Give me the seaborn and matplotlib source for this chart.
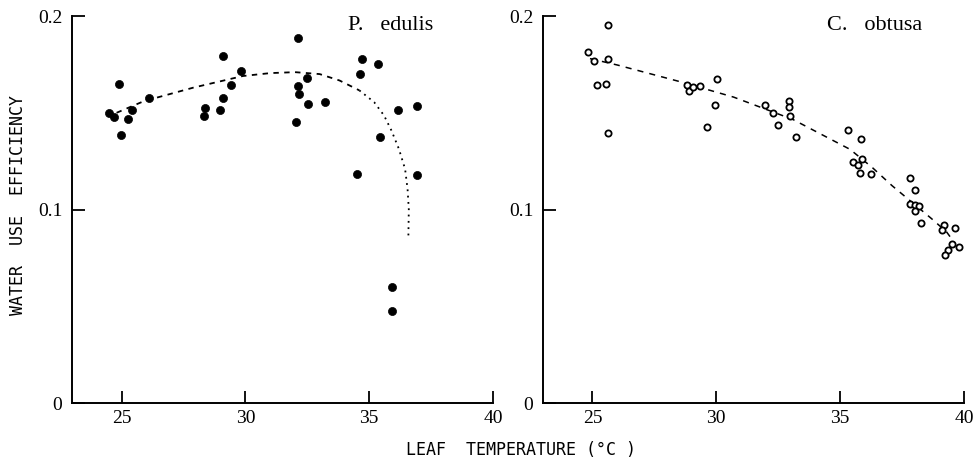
import matplotlib
matplotlib.use("Agg")
import matplotlib.pyplot as plt
import seaborn as sns
import pandas as pd

# ---- data ----
pe_temp = [24.48, 24.68, 24.90, 24.99, 25.27, 25.44, 26.11, 28.32, 28.39, 28.98,
           29.10, 29.11, 29.40, 29.81, 32.13, 32.03, 32.13, 32.17, 32.47, 32.51,
           33.21, 34.52, 34.61, 34.70, 35.35, 35.42, 36.16, 36.92, 36.94, 35.93, 35.93]
pe_wue = [0.1498, 0.1477, 0.1650, 0.1387, 0.1469, 0.1515, 0.1577, 0.1482, 0.1524, 0.1513,
          0.1574, 0.1793, 0.1641, 0.1714, 0.1884, 0.1451, 0.1636, 0.1598, 0.1680, 0.1546,
          0.1555, 0.1182, 0.1702, 0.1776, 0.1752, 0.1373, 0.1515, 0.1536, 0.1178, 0.0600, 0.0476]

pe_fit_temp = [24.8, 25.9, 27.9, 29.9, 31.0, 32.0, 33.0, 33.8, 34.6,
               35.2, 35.6, 35.9, 36.2, 36.45, 36.55, 36.6, 36.58]
pe_fit_wue = [0.150, 0.156, 0.163, 0.169, 0.1705, 0.171, 0.170, 0.1667, 0.1616,
              0.1555, 0.1486, 0.1408, 0.1313, 0.1209, 0.1105, 0.100, 0.0846]
pe_split = 8  # dashed up to this index, dotted afterwards

co_temp = [24.83, 25.07, 25.20, 25.54, 25.61, 25.63, 25.63, 28.82, 28.91, 29.07,
           29.33, 29.63, 29.93, 30.01, 31.95, 32.27, 32.50, 32.95, 32.95, 32.99,
           33.21, 35.30, 35.84, 35.54, 35.72, 35.89, 35.80, 36.24, 37.83, 38.04,
           37.83, 38.04, 38.18, 38.04, 38.28, 39.19, 39.64, 39.10, 39.52, 39.78,
           39.37, 39.25]
co_wue = [0.1813, 0.1767, 0.1643, 0.1649, 0.1954, 0.1777, 0.1393, 0.1646, 0.1610, 0.1632,
          0.1636, 0.1424, 0.1542, 0.1672, 0.1540, 0.1499, 0.1436, 0.1561, 0.1528, 0.1485,
          0.1374, 0.1413, 0.1367, 0.1248, 0.1229, 0.1260, 0.1191, 0.1186, 0.1162, 0.1099,
          0.1029, 0.1024, 0.1017, 0.0995, 0.0931, 0.0918, 0.0903, 0.0895, 0.0824, 0.0808,
          0.0791, 0.0767]

co_fit_temp = [24.9, 26.0, 28.5, 30.7, 33.1, 35.4, 36.3, 37.1, 38.7, 39.3, 39.5]
co_fit_wue = [0.178, 0.1747, 0.1662, 0.1581, 0.1465, 0.1311, 0.1217, 0.1123, 0.0952, 0.0884, 0.0849]

x_ticks = [25, 30, 35, 40]
y_ticks = [0, 0.1, 0.2]
y_ticklabels = ["0", "0.1", "0.2"]
titles = ["P.   edulis", "C.   obtusa"]

sns.set_theme(style="ticks")
plt.rcParams["font.family"] = ["Liberation Serif", "DejaVu Serif"]

fig = plt.figure(figsize=(9.73, 4.58), dpi=100)
ax1 = fig.add_axes([0.074, 0.120, 0.4327, 0.845])
ax2 = fig.add_axes([0.558, 0.120, 0.4327, 0.845])

# left panel
sns.scatterplot(x=pe_temp, y=pe_wue, ax=ax1, color="black", s=34, edgecolor="black",
                linewidth=0.5, marker="o", zorder=3, legend=False)
fit1 = pd.DataFrame({"t": pe_fit_temp, "w": pe_fit_wue})
sns.lineplot(data=fit1.iloc[:pe_split + 1], x="t", y="w", ax=ax1, sort=False, estimator=None,
             color="black", lw=1.3, linestyle=(0, (3, 3)))
sns.lineplot(data=fit1.iloc[pe_split:], x="t", y="w", ax=ax1, sort=False, estimator=None,
             color="black", lw=1.3, linestyle=(0, (1, 2.5)))

# right panel
sns.scatterplot(x=co_temp, y=co_wue, ax=ax2, facecolor="white", s=20, edgecolor="black",
                linewidth=1.3, marker="o", zorder=3, legend=False)
fit2 = pd.DataFrame({"t": co_fit_temp, "w": co_fit_wue})
sns.lineplot(data=fit2, x="t", y="w", ax=ax2, sort=False, estimator=None,
             color="black", lw=1.1, linestyle=(0, (4, 4)))

for ax, title, tx in zip([ax1, ax2], titles, [0.656, 0.675]):
    ax.set_xlim(23, 40)
    ax.set_ylim(0, 0.2)
    ax.set_xticks(x_ticks)
    ax.set_xticklabels([str(v) for v in x_ticks])
    ax.set_yticks(y_ticks)
    ax.set_yticklabels(y_ticklabels)
    ax.tick_params(axis="both", direction="in", length=9, width=1.3, colors="black",
                   labelsize=14, pad=5)
    ax.tick_params(axis="y", pad=7)
    for side in ["top", "right"]:
        ax.spines[side].set_visible(False)
    for side in ["left", "bottom"]:
        ax.spines[side].set_linewidth(1.4)
        ax.spines[side].set_color("black")
    ax.set_xlabel("")
    ax.set_ylabel("")
    ax.text(tx, 0.975, title, transform=ax.transAxes, fontsize=16, ha="left", va="center",
            family=["Liberation Serif"], color="black")
    ax.patch.set_alpha(0)

fig.text(0.0185, 0.552, "WATER  USE  EFFICIENCY", rotation=90, ha="center", va="center",
         fontsize=12, family=["DejaVu Sans Mono"], color="black")
fig.text(0.5355, 0.018, "LEAF  TEMPERATURE (°C )", ha="center", va="center",
         fontsize=12, family=["DejaVu Sans Mono"], color="black")

fig.savefig("out.png", dpi=100, facecolor="white")
